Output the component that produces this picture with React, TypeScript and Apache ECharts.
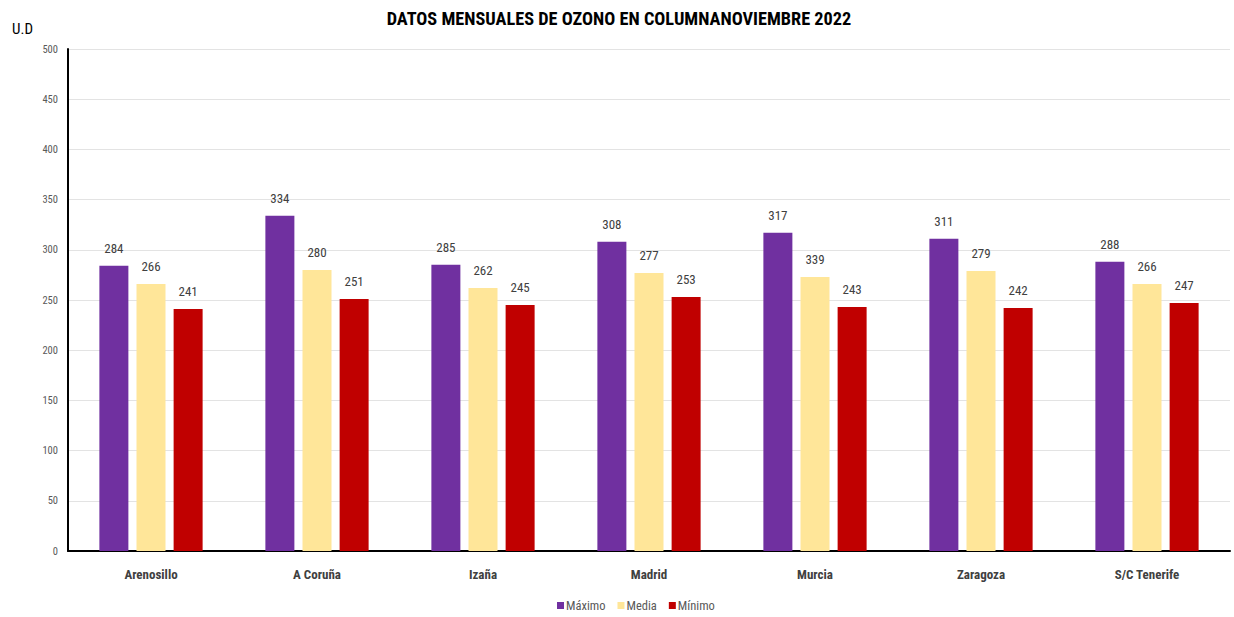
import React, { useEffect, useRef } from "react";
import * as echarts from "echarts";

const categories = ["Arenosillo", "A Coruña", "Izaña", "Madrid", "Murcia", "Zaragoza", "S/C Tenerife"];
const maximoValues = [284, 334, 285, 308, 317, 311, 288];
const mediaValues = [266, 280, 262, 277, 273, 279, 266];
const mediaLabels = ["266", "280", "262", "277", "339", "279", "266"];
const minimoValues = [241, 251, 245, 253, 243, 242, 247];
const yTicks = { min: 0, max: 500, interval: 50 };

const FONT = "'Roboto Condensed', 'Open Sans Condensed', sans-serif";

export default function App() {
  const ref = useRef<HTMLDivElement>(null);
  useEffect(() => {
    if (!ref.current) return;
    const chart = echarts.init(ref.current, null, { renderer: "svg" });
    const label = (fmt?: (p: any) => string) => ({
      show: true,
      position: "top",
      distance: 11,
      color: "#404040",
      fontSize: 13,
      fontFamily: FONT,
      formatter: fmt,
    });
    chart.setOption({
      animation: false,
      backgroundColor: "#ffffff",
      title: {
        text: "DATOS MENSUALES DE OZONO EN COLUMNANOVIEMBRE 2022",
        left: 614,
        textAlign: "center",
        top: 4,
        textStyle: { fontFamily: FONT, fontSize: 18.3, fontWeight: "bold", color: "#000000" },
      },
      graphic: [
        {
          type: "text",
          left: 12,
          top: 21,
          style: { text: "U.D", fontFamily: FONT, fontSize: 15, fill: "#000000" },
        },
      ],
      legend: {
        bottom: 0,
        left: 552,
        itemWidth: 7,
        itemHeight: 7,
        itemGap: 12,
        icon: "rect",
        textStyle: { fontFamily: FONT, fontSize: 12.5, color: "#595959", padding: [0, 0, 0, -3] },
        data: ["Máximo", "Media", "Mínimo"],
      },
      grid: { left: 68, right: 4, top: 49, bottom: 66, containLabel: false },
      xAxis: {
        type: "category",
        data: categories,
        axisLine: { lineStyle: { color: "#000000", width: 2 } },
        axisTick: { show: false },
        axisLabel: { fontFamily: FONT, fontSize: 13, fontWeight: "bold", color: "#404040", margin: 17 },
      },
      yAxis: {
        type: "value",
        min: yTicks.min,
        max: yTicks.max,
        interval: yTicks.interval,
        axisLine: { show: true, lineStyle: { color: "#000000", width: 2 } },
        axisTick: { show: false },
        axisLabel: { fontFamily: FONT, fontSize: 10.5, color: "#595959", margin: 10 },
        splitLine: { lineStyle: { color: "#e3e3e3", width: 1 } },
      },
      series: [
        {
          name: "Máximo",
          type: "bar",
          data: maximoValues,
          itemStyle: { color: "#7030a0" },
          barWidth: 29,
          barGap: "28%",
          label: label(),
        },
        {
          name: "Media",
          type: "bar",
          data: mediaValues,
          itemStyle: { color: "#ffe699" },
          barWidth: 29,
          barGap: "28%",
          label: label((p: any) => mediaLabels[p.dataIndex]),
        },
        {
          name: "Mínimo",
          type: "bar",
          data: minimoValues,
          itemStyle: { color: "#c00000" },
          barWidth: 29,
          barGap: "28%",
          label: label(),
        },
      ],
    });
    return () => chart.dispose();
  }, []);
  return <div ref={ref} style={{ width: 1234, height: 617, position: "absolute", left: 0, top: 0 }} />;
}
